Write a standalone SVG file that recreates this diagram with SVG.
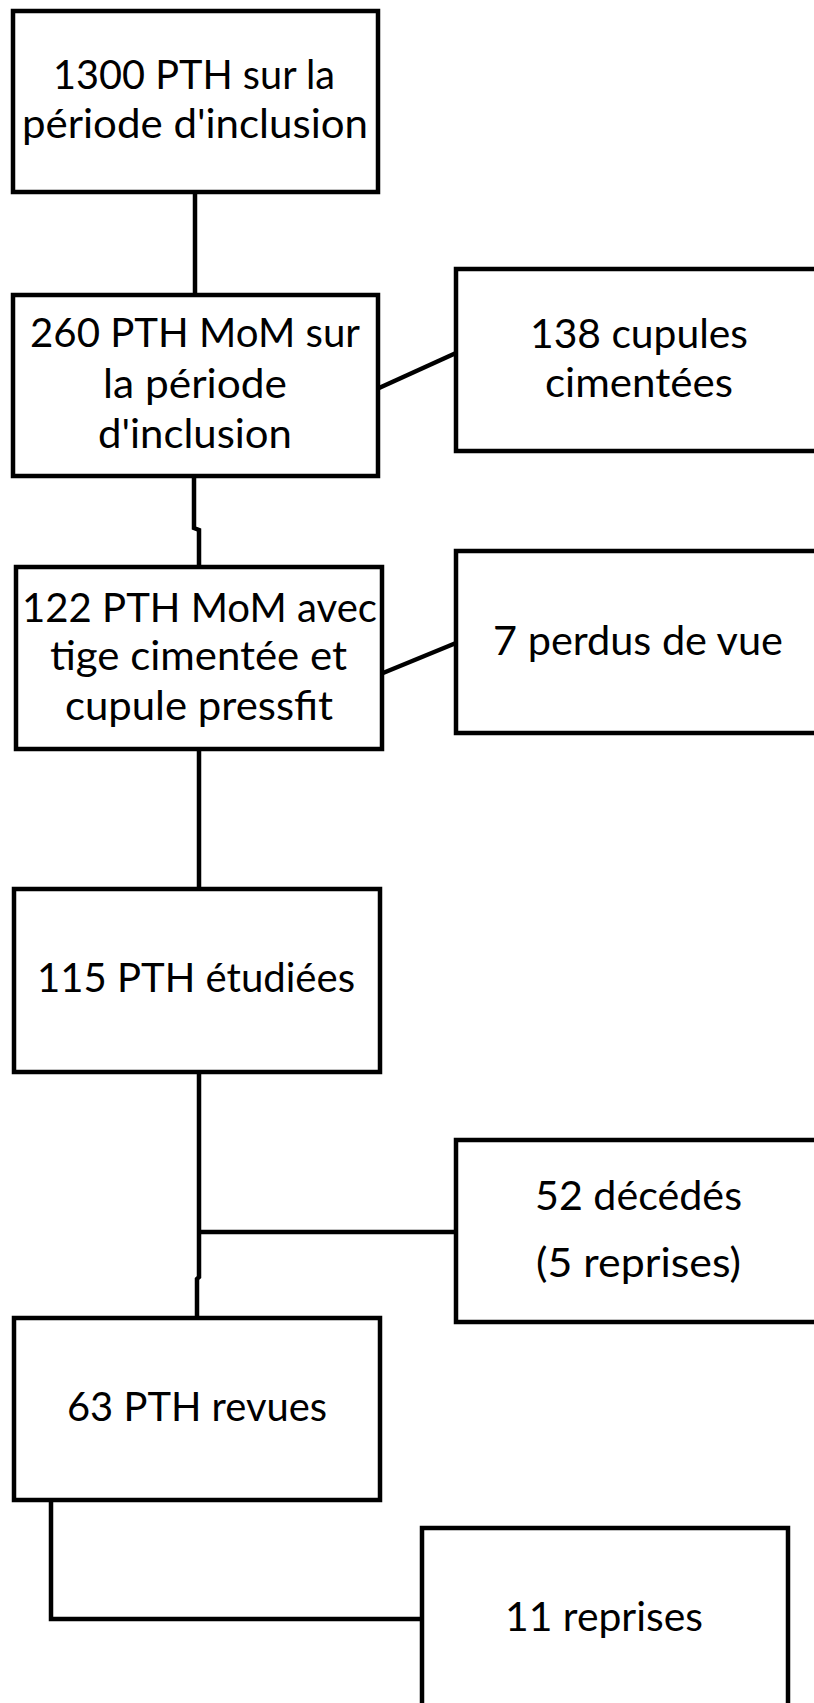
<svg xmlns="http://www.w3.org/2000/svg" width="814" height="1703" viewBox="0 0 814 1703">
<style>
.box{fill:#fff;stroke:#000;stroke-width:4.5}
.t{font-family:Lato,"Open Sans","Liberation Sans",sans-serif;font-size:40px;fill:#000;text-anchor:middle}
.c{fill:none;stroke:#000;stroke-width:4.5;stroke-linejoin:miter}
</style>
<rect width="814" height="1703" fill="#fff"/>
<g id="connectors">
<path class="c" d="M195,192 V295"/>
<path class="c" d="M194,477 V528 L199,530 V567"/>
<path class="c" d="M379,388 L456,353"/>
<path class="c" d="M199,749 V889"/>
<path class="c" d="M383,673 L456,643"/>
<path class="c" d="M199,1072 V1277 L197,1279 V1318"/>
<path class="c" d="M199,1232 H456"/>
<path class="c" d="M51,1500 V1619 H422"/>
</g>
<g id="n1">
<rect class="box" x="13" y="11" width="365" height="181"/>
<text class="t" x="194" y="89" textLength="282" lengthAdjust="spacingAndGlyphs">1300 PTH sur la</text>
<text class="t" x="195" y="138" textLength="346" lengthAdjust="spacingAndGlyphs">période d'inclusion</text>
</g>
<g id="n2">
<rect class="box" x="13" y="295" width="365" height="181"/>
<text class="t" x="195" y="347" textLength="330" lengthAdjust="spacingAndGlyphs">260 PTH MoM sur</text>
<text class="t" x="195" y="398" textLength="184" lengthAdjust="spacingAndGlyphs">la période</text>
<text class="t" x="195" y="448" textLength="194" lengthAdjust="spacingAndGlyphs">d'inclusion</text>
</g>
<g id="n3">
<rect class="box" x="456" y="269" width="366" height="182"/>
<text class="t" x="639" y="348" textLength="218" lengthAdjust="spacingAndGlyphs">138 cupules</text>
<text class="t" x="639" y="397" textLength="188" lengthAdjust="spacingAndGlyphs">cimentées</text>
</g>
<g id="n4">
<rect class="box" x="456" y="551" width="366" height="182"/>
<text class="t" x="638" y="655" textLength="290" lengthAdjust="spacingAndGlyphs">7 perdus de vue</text>
</g>
<g id="n5">
<rect class="box" x="16" y="567" width="366" height="182"/>
<text class="t" x="199.5" y="622" textLength="355" lengthAdjust="spacingAndGlyphs">122 PTH MoM avec</text>
<text class="t" x="198.5" y="670" textLength="297" lengthAdjust="spacingAndGlyphs">tige cimentée et</text>
<text class="t" x="199" y="720" textLength="268" lengthAdjust="spacingAndGlyphs">cupule pressfit</text>
</g>
<g id="n6">
<rect class="box" x="14" y="889" width="366" height="183"/>
<text class="t" x="196" y="992" textLength="318" lengthAdjust="spacingAndGlyphs">115 PTH étudiées</text>
</g>
<g id="n7">
<rect class="box" x="14" y="1318" width="366" height="182"/>
<text class="t" x="197" y="1421" textLength="260" lengthAdjust="spacingAndGlyphs">63 PTH revues</text>
</g>
<g id="n8">
<rect class="box" x="456" y="1140" width="366" height="182"/>
<text class="t" x="638.5" y="1210" textLength="207" lengthAdjust="spacingAndGlyphs">52 décédés</text>
<text class="t" x="638.5" y="1277" textLength="205" lengthAdjust="spacingAndGlyphs">(5 reprises)</text>
</g>
<g id="n9">
<rect class="box" x="422" y="1528" width="366" height="200"/>
<text class="t" x="604" y="1631" textLength="198" lengthAdjust="spacingAndGlyphs">11 reprises</text>
</g>
</svg>
